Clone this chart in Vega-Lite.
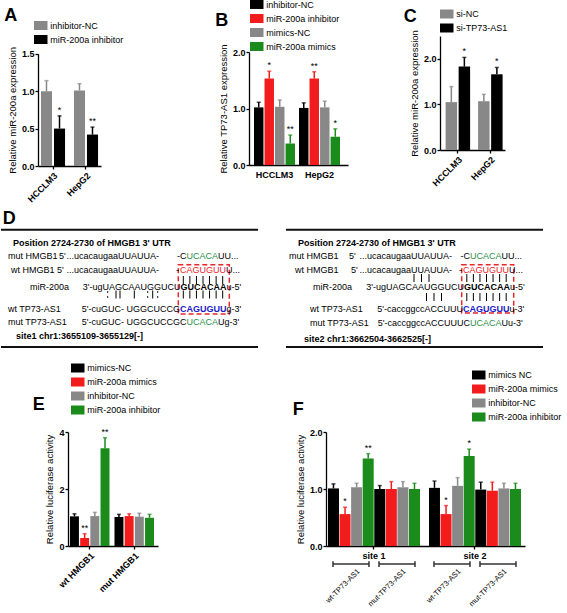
{
  "$schema": "https://vega.github.io/schema/vega-lite/v6.json",
  "padding": 0,
  "background": "white",
  "spacing": 0,
  "align": "none",
  "bounds": "full",
  "resolve": {"scale": {"color": "independent", "xOffset": "independent"}, "legend": {"color": "independent"}},
  "config": {
    "font": "Liberation Sans",
    "view": {"stroke": null},
    "axis": {"grid": false, "domainColor": "#000", "domainWidth": 1.3, "tickColor": "#000", "tickWidth": 1.3, "tickSize": 3, "labelColor": "#000", "labelFontSize": 9, "labelFontWeight": "bold", "labelPadding": 1, "titleColor": "#000", "titleFontSize": 9.5, "titleFontWeight": "normal", "titlePadding": 4},
    "axisX": {"labelPadding": 2},
    "legend": {"orient": "none", "padding": 0, "labelFontSize": 9, "labelColor": "#000", "labelFontWeight": "normal", "symbolType": "M-1.5,-1H1.5V1H-1.5Z", "symbolSize": 81, "symbolStrokeWidth": 0, "rowPadding": 4, "labelOffset": 5},
    "title": {"fontSize": 18, "fontWeight": "bold", "anchor": "start", "frame": "group", "offset": 0, "baseline": "alphabetic", "color": "#000"}
  },
  "vconcat": [
    {
      "spacing": 0, "align": "none", "bounds": "flush",
      "resolve": {"scale": {"color": "independent", "xOffset": "independent"}, "legend": {"color": "independent"}},
      "hconcat": [
        {"width": 37, "height": 170, "data": {"values": []}, "mark": {"type": "point", "opacity": 0}},
        {
          "width": 63, "height": 130,
          "title": {"text": "A", "dx": -33.7, "dy": 8.1},
          "data": {"values": [
            {"cell": "HCCLM3", "group": "inhibitor-NC", "value": 1.0, "hi": 1.14, "sig": ""},
            {"cell": "HCCLM3", "group": "miR-200a inhibitor", "value": 0.5, "hi": 0.67, "sig": "*"},
            {"cell": "HepG2", "group": "inhibitor-NC", "value": 1.01, "hi": 1.1, "sig": ""},
            {"cell": "HepG2", "group": "miR-200a inhibitor", "value": 0.42, "hi": 0.52, "sig": "**"}
          ]},
          "encoding": {
            "x": {"field": "cell", "type": "nominal", "sort": ["HCCLM3", "HepG2"], "scale": {"paddingInner": 0.27, "paddingOuter": 0.09}, "axis": {"title": null, "labelAngle": -45}},
            "xOffset": {"field": "group", "type": "nominal", "scale": {"domain": ["inhibitor-NC", "miR-200a inhibitor"], "paddingInner": 0.15}}
          },
          "layer": [
            {"mark": {"type": "bar"}, "encoding": {
              "y": {"field": "value", "type": "quantitative", "scale": {"domain": [0, 1.5], "range": [130, 17.7], "nice": false}, "axis": {"title": "Relative miR-200a expression", "values": [0, 0.5, 1, 1.5], "format": ".1f"}},
              "color": {"field": "group", "type": "nominal", "title": null, "scale": {"domain": ["inhibitor-NC", "miR-200a inhibitor"], "range": ["#888888", "#000000"]}, "legend": {"legendX": -1.75, "legendY": -15}}}},
            {"mark": {"type": "rule", "strokeWidth": 1.5}, "encoding": {
              "y": {"field": "value", "type": "quantitative"}, "y2": {"field": "hi"},
              "color": {"field": "group", "type": "nominal", "legend": null}}},
            {"mark": {"type": "tick", "thickness": 1.5, "size": 4}, "encoding": {
              "y": {"field": "hi", "type": "quantitative"},
              "color": {"field": "group", "type": "nominal", "legend": null}}},
            {"mark": {"type": "text", "baseline": "bottom", "dy": -1, "fontSize": 9, "color": "#000"}, "encoding": {
              "y": {"field": "hi", "type": "quantitative"}, "text": {"field": "sig"}}}
          ]
        },
        {"width": 148, "height": 1, "data": {"values": []}, "mark": {"type": "point", "opacity": 0}},
        {
          "width": 99, "height": 130,
          "title": {"text": "B", "dx": -33.7, "dy": 34.4},
          "data": {"values": [
            {"cell": "HCCLM3", "group": "inhibitor-NC", "value": 1.02, "hi": 1.11, "sig": ""},
            {"cell": "HCCLM3", "group": "miR-200a inhibitor", "value": 1.53, "hi": 1.66, "sig": "*"},
            {"cell": "HCCLM3", "group": "mimics-NC", "value": 1.03, "hi": 1.15, "sig": ""},
            {"cell": "HCCLM3", "group": "miR-200a mimics", "value": 0.38, "hi": 0.53, "sig": "**"},
            {"cell": "HepG2", "group": "inhibitor-NC", "value": 1.01, "hi": 1.1, "sig": ""},
            {"cell": "HepG2", "group": "miR-200a inhibitor", "value": 1.53, "hi": 1.65, "sig": "**"},
            {"cell": "HepG2", "group": "mimics-NC", "value": 1.02, "hi": 1.13, "sig": ""},
            {"cell": "HepG2", "group": "miR-200a mimics", "value": 0.5, "hi": 0.64, "sig": "*"}
          ]},
          "encoding": {
            "x": {"field": "cell", "type": "nominal", "sort": ["HCCLM3", "HepG2"], "scale": {"paddingInner": 0.089, "paddingOuter": 0.144, "align": 0.385}, "axis": {"title": null, "labelAngle": 0, "ticks": false, "labelPadding": 5, "offset": -1}},
            "xOffset": {"field": "group", "type": "nominal", "scale": {"domain": ["inhibitor-NC", "miR-200a inhibitor", "mimics-NC", "miR-200a mimics"], "paddingInner": 0.1}}
          },
          "layer": [
            {"mark": {"type": "bar"}, "encoding": {
              "y": {"field": "value", "type": "quantitative", "scale": {"domain": [0, 2], "range": [129, 16], "nice": false}, "axis": {"title": "Relative TP73-AS1 expression", "values": [0, 0.5, 1, 1.5, 2], "format": ".1f"}},
              "color": {"field": "group", "type": "nominal", "title": null, "scale": {"domain": ["inhibitor-NC", "miR-200a inhibitor", "mimics-NC", "miR-200a mimics"], "range": ["#000000", "#f21c1c", "#888888", "#1b8c1b"]}, "legend": {"legendX": 3.25, "legendY": -36}}}},
            {"mark": {"type": "rule", "strokeWidth": 1.5}, "encoding": {
              "y": {"field": "value", "type": "quantitative"}, "y2": {"field": "hi"},
              "color": {"field": "group", "type": "nominal", "legend": null}}},
            {"mark": {"type": "tick", "thickness": 1.5, "size": 4}, "encoding": {
              "y": {"field": "hi", "type": "quantitative"},
              "color": {"field": "group", "type": "nominal", "legend": null}}},
            {"mark": {"type": "text", "baseline": "bottom", "dy": -1, "fontSize": 9, "color": "#000"}, "encoding": {
              "y": {"field": "hi", "type": "quantitative"}, "text": {"field": "sig"}}}
          ]
        },
        {"width": 92, "height": 1, "data": {"values": []}, "mark": {"type": "point", "opacity": 0}},
        {
          "width": 65, "height": 130,
          "title": {"text": "C", "dx": -36.3, "dy": 20.1},
          "data": {"values": [
            {"cell": "HCCLM3", "group": "si-NC", "value": 1.05, "hi": 1.39, "sig": ""},
            {"cell": "HCCLM3", "group": "si-TP73-AS1", "value": 1.83, "hi": 2.03, "sig": "*"},
            {"cell": "HepG2", "group": "si-NC", "value": 1.07, "hi": 1.22, "sig": ""},
            {"cell": "HepG2", "group": "si-TP73-AS1", "value": 1.66, "hi": 1.81, "sig": "*"}
          ]},
          "encoding": {
            "x": {"field": "cell", "type": "nominal", "sort": ["HCCLM3", "HepG2"], "scale": {"paddingInner": 0.246, "paddingOuter": 0.123, "align": 0.7}, "axis": {"title": null, "labelAngle": -45, "offset": -16}},
            "xOffset": {"field": "group", "type": "nominal", "scale": {"domain": ["si-NC", "si-TP73-AS1"], "paddingInner": 0.12}}
          },
          "layer": [
            {"mark": {"type": "bar"}, "encoding": {
              "y": {"field": "value", "type": "quantitative", "scale": {"domain": [0, 2.5], "range": [114, 0], "nice": false}, "axis": {"title": "Relative miR-200a expression", "values": [0, 0.5, 1, 1.5, 2, 2.5], "format": ".1f"}},
              "color": {"field": "group", "type": "nominal", "title": null, "scale": {"domain": ["si-NC", "si-TP73-AS1"], "range": ["#888888", "#000000"]}, "legend": {"legendX": 2.25, "legendY": -26.5}}}},
            {"mark": {"type": "rule", "strokeWidth": 1.5}, "encoding": {
              "y": {"field": "value", "type": "quantitative"}, "y2": {"field": "hi"},
              "color": {"field": "group", "type": "nominal", "legend": null}}},
            {"mark": {"type": "tick", "thickness": 1.5, "size": 4}, "encoding": {
              "y": {"field": "hi", "type": "quantitative"},
              "color": {"field": "group", "type": "nominal", "legend": null}}},
            {"mark": {"type": "text", "baseline": "bottom", "dy": -1, "fontSize": 9, "color": "#000"}, "encoding": {
              "y": {"field": "hi", "type": "quantitative"}, "text": {"field": "sig"}}}
          ]
        }
      ]
    },
    {
      "width": 567, "height": 157,
      "layer": [
        {
          "data": {"values": [
            {"x": 0, "x2": 257, "y": 231.7},
            {"x": 0, "x2": 257, "y": 349},
            {"x": 285, "x2": 542, "y": 231.7},
            {"x": 285, "x2": 542, "y": 349}
          ]},
          "mark": {"type": "rule", "strokeWidth": 2, "color": "#111"},
          "encoding": {
            "x": {"field": "x", "type": "quantitative", "scale": {"domain": [0, 567], "nice": false, "zero": false}, "axis": null},
            "x2": {"field": "x2"},
            "y": {"field": "y", "type": "quantitative", "scale": {"domain": [208, 365], "nice": false, "zero": false, "reverse": true}, "axis": null}
          }
        },
        {
          "data": {"values": [
            {"x": 177.3, "x2": 228.3, "y": 266.7, "y2": 316},
            {"x": 460.7, "x2": 512.7, "y": 266.7, "y2": 315}
          ]},
          "mark": {"type": "rect", "fillOpacity": 0, "stroke": "#e8262c", "strokeWidth": 1.5, "strokeDash": [5, 3]},
          "encoding": {
            "x": {"field": "x", "type": "quantitative"}, "x2": {"field": "x2"},
            "y": {"field": "y", "type": "quantitative"}, "y2": {"field": "y2"}
          }
        },
        {
          "data": {"values": [
            {"x": 202, "y": 282, "pattern": "p7"},
            {"x": 131.7, "y": 296.5, "pattern": "pmix"},
            {"x": 202, "y": 296.5, "pattern": "p7"},
            {"x": 420.5, "y": 280, "pattern": "p3"},
            {"x": 485.5, "y": 280, "pattern": "p7"},
            {"x": 433, "y": 299, "pattern": "p3"},
            {"x": 485.5, "y": 299, "pattern": "p7"}
          ]},
          "mark": {"type": "point", "filled": false, "size": 1600, "stroke": "#000", "strokeWidth": 1, "opacity": 1},
          "encoding": {
            "x": {"field": "x", "type": "quantitative"},
            "y": {"field": "y", "type": "quantitative"},
            "shape": {"field": "pattern", "type": "nominal", "legend": null, "scale": {"domain": ["p7", "p3", "pmix"], "range": [
              "M-0.985,-0.2V0.2M-0.657,-0.2V0.2M-0.328,-0.2V0.2M0,-0.2V0.2M0.328,-0.2V0.2M0.657,-0.2V0.2M0.985,-0.2V0.2",
              "M-0.375,-0.2V0.2M0,-0.2V0.2M0.375,-0.2V0.2",
              "M-1.25,-0.17V-0.08M-1.25,0.08V0.17M-0.835,-0.2V0.2M-0.635,-0.2V0.2M0.08,-0.2V0.2M0.75,-0.17V-0.08M0.75,0.08V0.17M1,-0.2V0.2M1.25,-0.17V-0.08M1.25,0.08V0.17"
            ]}}
          }
        },
        {
          "data": {"values": [
            {"t": "D", "x": 1.7, "y": 226, "role": "panel"},
            {"t": "Position 2724-2730 of HMGB1 3' UTR", "x": 12, "y": 245, "role": "header"},
            {"t": "mut HMGB1", "x": 7, "y": 257.5, "role": "plain"},
            {"t": "5'", "x": 58, "y": 257.5, "role": "plain"},
            {"t": "...ucacaugaaUUAUUA-", "x": 158, "y": 257.5, "role": "plain", "part": "pre"},
            {"t": "-C", "x": 185.5, "y": 257.5, "role": "plain", "part": "pre"},
            {"t": "UCACA", "x": 185.5, "y": 257.5, "role": "mutant"},
            {"t": "UU...", "x": 217, "y": 257.5, "role": "plain"},
            {"t": "wt HMGB1", "x": 10, "y": 272, "role": "plain"},
            {"t": "5'", "x": 56, "y": 272, "role": "plain"},
            {"t": "...ucacaugaaUUAUUA-", "x": 158, "y": 272, "role": "plain", "part": "pre"},
            {"t": "-", "x": 178, "y": 272, "role": "plain", "part": "pre"},
            {"t": "CAGUGUU", "x": 179, "y": 272, "role": "site"},
            {"t": "U...", "x": 225, "y": 272, "role": "plain"},
            {"t": "miR-200a", "x": 29, "y": 289, "role": "plain"},
            {"t": "3'-ugUAGCAAUGGUCU", "x": 179.5, "y": 289, "role": "plain", "part": "pre"},
            {"t": "GUCACAA", "x": 179.5, "y": 289, "role": "seed"},
            {"t": "u-5'", "x": 225.5, "y": 289, "role": "plain"},
            {"t": "wt TP73-AS1", "x": 7, "y": 311, "role": "plain"},
            {"t": "5'-cuGUC- UGGCUCCG", "x": 179, "y": 311, "role": "plain", "part": "pre"},
            {"t": "CAGUGUU", "x": 179, "y": 311, "role": "target"},
            {"t": "g-3'", "x": 225.5, "y": 311, "role": "plain"},
            {"t": "mut TP73-AS1", "x": 7, "y": 324, "role": "plain"},
            {"t": "5'-cuGUC- UGGCUCCGC", "x": 185.5, "y": 324, "role": "plain", "part": "pre"},
            {"t": "UCACA", "x": 185.5, "y": 324, "role": "mutant"},
            {"t": "Ug-3'", "x": 217, "y": 324, "role": "plain"},
            {"t": "site1 chr1:3655109-3655129[-]", "x": 15, "y": 338, "role": "header"},
            {"t": "Position 2724-2730 of HMGB1 3' UTR", "x": 297, "y": 244.5, "role": "header"},
            {"t": "mut HMGB1", "x": 288, "y": 258, "role": "plain"},
            {"t": "5'", "x": 348, "y": 258, "role": "plain"},
            {"t": "...ucacaugaaUUAUUA-", "x": 451, "y": 258, "role": "plain", "part": "pre"},
            {"t": "-C", "x": 469, "y": 258, "role": "plain", "part": "pre"},
            {"t": "UCACA", "x": 469, "y": 258, "role": "mutant"},
            {"t": "UU...", "x": 500.5, "y": 258, "role": "plain"},
            {"t": "wt HMGB1", "x": 294, "y": 272, "role": "plain"},
            {"t": "5'", "x": 350, "y": 272, "role": "plain"},
            {"t": "...ucacaugaaUUAUUA-", "x": 451, "y": 272, "role": "plain", "part": "pre"},
            {"t": "-", "x": 461, "y": 272, "role": "plain", "part": "pre"},
            {"t": "CAGUGUU", "x": 462, "y": 272, "role": "site"},
            {"t": "U...", "x": 508, "y": 272, "role": "plain"},
            {"t": "miR-200a", "x": 312, "y": 288.5, "role": "plain"},
            {"t": "3'-ugUAGCAAUGGUCU", "x": 463, "y": 288.5, "role": "plain", "part": "pre"},
            {"t": "GUCACAA", "x": 463, "y": 288.5, "role": "seed"},
            {"t": "u-5'", "x": 509, "y": 288.5, "role": "plain"},
            {"t": "wt TP73-AS1", "x": 309, "y": 311, "role": "plain"},
            {"t": "5'-caccggccACCUUU", "x": 462, "y": 311, "role": "plain", "part": "pre"},
            {"t": "CAGUGUU", "x": 462, "y": 311, "role": "target"},
            {"t": "u-3'", "x": 508.5, "y": 311, "role": "plain"},
            {"t": "mut TP73-AS1", "x": 309, "y": 324.5, "role": "plain"},
            {"t": "5'-caccggccACCUUUC", "x": 469, "y": 324.5, "role": "plain", "part": "pre"},
            {"t": "UCACA", "x": 469, "y": 324.5, "role": "mutant"},
            {"t": "Uu-3'", "x": 500.5, "y": 324.5, "role": "plain"},
            {"t": "site2 chr1:3662504-3662525[-]", "x": 303, "y": 341, "role": "header"}
          ]},
          "encoding": {
            "x": {"field": "x", "type": "quantitative"},
            "y": {"field": "y", "type": "quantitative"},
            "text": {"field": "t"}
          },
          "layer": [
            {"transform": [{"filter": "datum.part === 'pre'"}],
             "mark": {"type": "text", "align": "right", "baseline": "middle", "fontSize": 9, "color": "#000"}},
            {"transform": [{"filter": "datum.part !== 'pre' && (datum.role === 'plain' || datum.role === 'site' || datum.role === 'mutant')"}],
             "mark": {"type": "text", "align": "left", "baseline": "middle", "fontSize": 9},
             "encoding": {"color": {"field": "role", "type": "nominal", "legend": null, "scale": {"domain": ["plain", "site", "mutant", "header", "seed", "target"], "range": ["#000000", "#e8262c", "#2a9049", "#000000", "#000000", "#2020c8"]}}}},
            {"transform": [{"filter": "datum.role === 'header' || datum.role === 'seed' || datum.role === 'target'"}],
             "mark": {"type": "text", "align": "left", "baseline": "middle", "fontSize": 9, "fontWeight": "bold"},
             "encoding": {"color": {"field": "role", "type": "nominal", "legend": null}}},
            {"transform": [{"filter": "datum.role === 'panel'"}],
             "mark": {"type": "text", "align": "left", "baseline": "alphabetic", "fontSize": 18, "fontWeight": "bold", "color": "#000"}}
          ]
        }
      ]
    },
    {
      "spacing": 0, "align": "none", "bounds": "flush",
      "resolve": {"scale": {"color": "independent", "xOffset": "independent"}, "legend": {"color": "independent"}},
      "hconcat": [
        {"width": 67, "height": 1, "data": {"values": []}, "mark": {"type": "point", "opacity": 0}},
        {
          "width": 90, "height": 114,
          "title": {"text": "E", "dx": -35.3, "dy": 54.9},
          "data": {"values": [
            {"construct": "wt HMGB1", "group": "mimics-NC", "value": 1.04, "hi": 1.13, "sig": ""},
            {"construct": "wt HMGB1", "group": "miR-200a mimics", "value": 0.28, "hi": 0.43, "sig": "**"},
            {"construct": "wt HMGB1", "group": "inhibitor-NC", "value": 1.05, "hi": 1.18, "sig": ""},
            {"construct": "wt HMGB1", "group": "miR-200a inhibitor", "value": 3.43, "hi": 3.8, "sig": "**"},
            {"construct": "mut HMGB1", "group": "mimics-NC", "value": 1.02, "hi": 1.11, "sig": ""},
            {"construct": "mut HMGB1", "group": "miR-200a mimics", "value": 1.05, "hi": 1.13, "sig": ""},
            {"construct": "mut HMGB1", "group": "inhibitor-NC", "value": 1.03, "hi": 1.15, "sig": ""},
            {"construct": "mut HMGB1", "group": "miR-200a inhibitor", "value": 0.99, "hi": 1.11, "sig": ""}
          ]},
          "encoding": {
            "x": {"field": "construct", "type": "nominal", "sort": ["wt HMGB1", "mut HMGB1"], "scale": {"paddingInner": 0.112, "paddingOuter": 0.067, "align": 0.33}, "axis": {"title": null, "labelAngle": -45}},
            "xOffset": {"field": "group", "type": "nominal", "scale": {"domain": ["mimics-NC", "miR-200a mimics", "inhibitor-NC", "miR-200a inhibitor"], "paddingInner": 0.12}}
          },
          "layer": [
            {"mark": {"type": "bar"}, "encoding": {
              "y": {"field": "value", "type": "quantitative", "scale": {"domain": [0, 4], "nice": false}, "axis": {"title": "Relative luciferase activity", "values": [0, 1, 2, 3, 4], "format": "d"}},
              "color": {"field": "group", "type": "nominal", "title": null, "scale": {"domain": ["mimics-NC", "miR-200a mimics", "inhibitor-NC", "miR-200a inhibitor"], "range": ["#000000", "#f21c1c", "#888888", "#1b8c1b"]}, "legend": {"legendX": 5.25, "legendY": -68.5}}}},
            {"mark": {"type": "rule", "strokeWidth": 1.5}, "encoding": {
              "y": {"field": "value", "type": "quantitative"}, "y2": {"field": "hi"},
              "color": {"field": "group", "type": "nominal", "legend": null}}},
            {"mark": {"type": "tick", "thickness": 1.5, "size": 4}, "encoding": {
              "y": {"field": "hi", "type": "quantitative"},
              "color": {"field": "group", "type": "nominal", "legend": null}}},
            {"mark": {"type": "text", "baseline": "bottom", "dy": -1, "fontSize": 9, "color": "#000"}, "encoding": {
              "y": {"field": "hi", "type": "quantitative"}, "text": {"field": "sig"}}}
          ]
        },
        {"width": 168, "height": 1, "data": {"values": []}, "mark": {"type": "point", "opacity": 0}},
        {
          "width": 199, "height": 114,
          "title": {"text": "F", "dx": -33.3, "dy": 52.1},
          "resolve": {"scale": {"xOffset": "independent"}},
          "layer": [
            {
              "data": {"values": [
                {"site": "site 1", "bar": "wt|mimics NC", "group": "mimics NC", "value": 1.01, "hi": 1.09, "sig": ""},
                {"site": "site 1", "bar": "wt|miR-200a mimics", "group": "miR-200a mimics", "value": 0.56, "hi": 0.68, "sig": "*"},
                {"site": "site 1", "bar": "wt|inhibitor-NC", "group": "inhibitor-NC", "value": 1.03, "hi": 1.1, "sig": ""},
                {"site": "site 1", "bar": "wt|miR-200a inhibitor", "group": "miR-200a inhibitor", "value": 1.535, "hi": 1.62, "sig": "**"},
                {"site": "site 1", "bar": "mut|mimics NC", "group": "mimics NC", "value": 1.0, "hi": 1.06, "sig": ""},
                {"site": "site 1", "bar": "mut|miR-200a mimics", "group": "miR-200a mimics", "value": 1.0, "hi": 1.13, "sig": ""},
                {"site": "site 1", "bar": "mut|inhibitor-NC", "group": "inhibitor-NC", "value": 1.03, "hi": 1.13, "sig": ""},
                {"site": "site 1", "bar": "mut|miR-200a inhibitor", "group": "miR-200a inhibitor", "value": 1.0, "hi": 1.1, "sig": ""},
                {"site": "site 2", "bar": "wt|mimics NC", "group": "mimics NC", "value": 1.02, "hi": 1.14, "sig": ""},
                {"site": "site 2", "bar": "wt|miR-200a mimics", "group": "miR-200a mimics", "value": 0.56, "hi": 0.71, "sig": "*"},
                {"site": "site 2", "bar": "wt|inhibitor-NC", "group": "inhibitor-NC", "value": 1.055, "hi": 1.2, "sig": ""},
                {"site": "site 2", "bar": "wt|miR-200a inhibitor", "group": "miR-200a inhibitor", "value": 1.58, "hi": 1.7, "sig": "*"},
                {"site": "site 2", "bar": "mut|mimics NC", "group": "mimics NC", "value": 0.99, "hi": 1.12, "sig": ""},
                {"site": "site 2", "bar": "mut|miR-200a mimics", "group": "miR-200a mimics", "value": 0.97, "hi": 1.12, "sig": ""},
                {"site": "site 2", "bar": "mut|inhibitor-NC", "group": "inhibitor-NC", "value": 1.01, "hi": 1.1, "sig": ""},
                {"site": "site 2", "bar": "mut|miR-200a inhibitor", "group": "miR-200a inhibitor", "value": 1.0, "hi": 1.1, "sig": ""}
              ]},
              "encoding": {
                "x": {"field": "site", "type": "nominal", "sort": ["site 1", "site 2"], "scale": {"paddingInner": 0.089, "paddingOuter": 0.0297, "align": 0.33}, "axis": {"title": null, "labelAngle": 0}},
                "xOffset": {"field": "bar", "type": "nominal", "scale": {"domain": ["wt|mimics NC", "wt|miR-200a mimics", "wt|inhibitor-NC", "wt|miR-200a inhibitor", "mut|mimics NC", "mut|miR-200a mimics", "mut|inhibitor-NC", "mut|miR-200a inhibitor"], "paddingInner": 0.05}}
              },
              "layer": [
                {"mark": {"type": "bar"}, "encoding": {
                  "y": {"field": "value", "type": "quantitative", "scale": {"domain": [0, 2], "nice": false}, "axis": {"title": "Relative luciferase activity", "values": [0, 0.5, 1, 1.5, 2], "format": ".1f"}},
                  "color": {"field": "group", "type": "nominal", "title": null, "scale": {"domain": ["mimics NC", "miR-200a mimics", "inhibitor-NC", "miR-200a inhibitor"], "range": ["#000000", "#f21c1c", "#888888", "#1b8c1b"]}, "legend": {"legendX": 148.25, "legendY": -61.5}}}},
                {"mark": {"type": "rule", "strokeWidth": 1.5}, "encoding": {
                  "y": {"field": "value", "type": "quantitative"}, "y2": {"field": "hi"},
                  "color": {"field": "group", "type": "nominal", "legend": null}}},
                {"mark": {"type": "tick", "thickness": 1.5, "size": 4}, "encoding": {
                  "y": {"field": "hi", "type": "quantitative"},
                  "color": {"field": "group", "type": "nominal", "legend": null}}},
                {"mark": {"type": "text", "baseline": "bottom", "dy": -1, "fontSize": 9, "color": "#000"}, "encoding": {
                  "y": {"field": "hi", "type": "quantitative"}, "text": {"field": "sig"}}}
              ]
            },
            {
              "data": {"values": [
                {"site": "site 1", "construct": "wt", "label": "wt-TP73-AS1"},
                {"site": "site 1", "construct": "mut", "label": "mut-TP73-AS1"},
                {"site": "site 2", "construct": "wt", "label": "wt-TP73-AS1"},
                {"site": "site 2", "construct": "mut", "label": "mut-TP73-AS1"}
              ]},
              "encoding": {
                "x": {"field": "site", "type": "nominal"},
                "xOffset": {"field": "construct", "type": "nominal", "scale": {"type": "band", "domain": ["wt", "mut"], "paddingInner": 0, "paddingOuter": 0}},
                "y": {"datum": -0.316, "type": "quantitative"}
              },
              "layer": [
                {"mark": {"type": "point", "shape": "M-1,-0.16V0.16M-1,0H1M1,-0.16V0.16", "size": 1296, "filled": false, "stroke": "#333", "strokeWidth": 1.5, "opacity": 1}},
                {"mark": {"type": "text", "angle": 315, "align": "right", "baseline": "top", "dx": 1, "dy": 6, "fontSize": 7.5, "color": "#000"},
                 "encoding": {"text": {"field": "label"}}}
              ]
            }
          ]
        }
      ]
    }
  ]
}
